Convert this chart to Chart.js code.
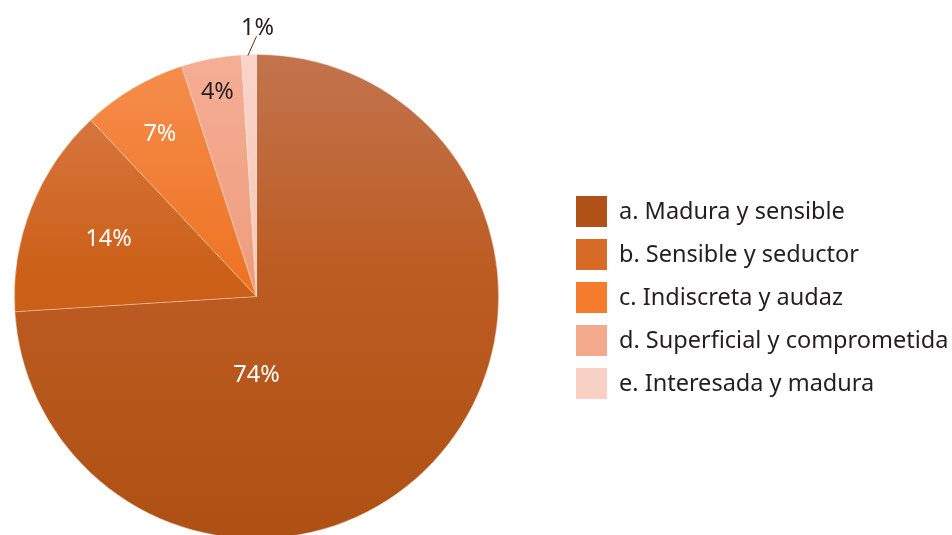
<!DOCTYPE html>
<html>
<head>
<meta charset="utf-8">
<script src="https://cdn.jsdelivr.net/npm/chart.js@4.4.1/dist/chart.umd.min.js"></script>
<style>
html, body { margin: 0; padding: 0; background: #ffffff; overflow: hidden; width: 952px; height: 535px; }
#wrap { position: absolute; left: 0; top: 0; width: 952px; height: 539px; }
</style>
</head>
<body>
<div id="wrap"><canvas id="c"></canvas></div>
<script>
// ---- data ----
const categories = [
  "a. Madura y sensible",
  "b. Sensible y seductor",
  "c. Indiscreta y audaz",
  "d. Superficial y comprometida",
  "e. Interesada y madura"
];
const percentages = [74, 14, 7, 4, 1];
const valueLabels = ["74%", "14%", "7%", "4%", "1%"];

// ---- styles ----
const legendColors = ["#b05218", "#d86a28", "#f47c2c", "#f4a88c", "#f8d0c4"];
const sliceGradients = [
  [[0, "#c2744e"], [0.45, "#bc5c22"], [1, "#ae5014"]],
  [[0, "#da7e4e"], [0.45, "#cc6018"], [1, "#c45a14"]],
  [[0, "#f68e4e"], [0.45, "#ee7424"], [1, "#e86c1c"]],
  [[0, "#f5ae94"], [0.5, "#ee9c7c"], [1, "#e89070"]],
  [[0, "#f9d4c8"], [0.5, "#f6c8ba"], [1, "#f2c0b0"]]
];
const labelColors = ["#ffffff", "#ffffff", "#ffffff", "#231f20", "#231f20"];
const FONT = "'Noto Sans', sans-serif";
const FONT_SIZE = 23.5;

function sliceFill(ctx) {
  const chart = ctx.chart;
  const area = chart.chartArea;
  if (!area) return legendColors[ctx.dataIndex];
  const g = chart.ctx.createLinearGradient(0, area.top, 0, area.bottom);
  sliceGradients[ctx.dataIndex].forEach(s => g.addColorStop(s[0], s[1]));
  return g;
}

const labelPlugin = {
  id: 'sliceLabels',
  afterDatasetsDraw(chart) {
    const ctx = chart.ctx;
    const meta = chart.getDatasetMeta(0);
    ctx.save();
    ctx.font = FONT_SIZE + "px " + FONT;
    ctx.textAlign = "center";
    ctx.textBaseline = "middle";
    meta.data.forEach((arc, i) => {
      const p = arc.getProps(['x', 'y', 'startAngle', 'endAngle', 'outerRadius'], true);
      const mid = (p.startAngle + p.endAngle) / 2;
      const R = p.outerRadius;
      let lx, ly;
      if (i === 0) {
        // largest slice: label placed below centre
        lx = p.x; ly = p.y + R * 0.32;
      } else if (i === meta.data.length - 1) {
        // smallest slice: label outside with leader line
        const ex = p.x + Math.cos(mid) * R, ey = p.y + Math.sin(mid) * R;
        const top = -Math.PI / 2;
        lx = p.x + Math.cos(top) * (R + 27) + 1;
        ly = p.y + Math.sin(top) * (R + 27);
        ctx.strokeStyle = "#6b2a12";
        ctx.lineWidth = 1;
        ctx.beginPath();
        ctx.moveTo(ex - 1, ey + 1);
        ctx.lineTo(p.x, p.y - R - 18);
        ctx.stroke();
      } else {
        const fr = [0, 0.657, 0.784, 0.862][i];
        lx = p.x + Math.cos(mid) * R * fr;
        ly = p.y + Math.sin(mid) * R * fr;
      }
      ctx.fillStyle = labelColors[i];
      ctx.fillText(valueLabels[i], lx, ly + 1);
    });
    ctx.restore();
  }
};

const legendPlugin = {
  id: 'sideLegend',
  afterDraw(chart) {
    const ctx = chart.ctx;
    const items = chart.data.labels;
    ctx.save();
    ctx.font = FONT_SIZE + "px " + FONT;
    ctx.textAlign = "left";
    ctx.textBaseline = "middle";
    items.forEach((lab, i) => {
      const y = 196 + i * 43;
      ctx.fillStyle = legendColors[i];
      ctx.fillRect(576, y, 31, 31);
      ctx.fillStyle = "#231f20";
      ctx.fillText(lab, 619, y + 16.5);
    });
    ctx.restore();
  }
};

new Chart(document.getElementById('c'), {
  type: 'pie',
  data: {
    labels: categories,
    datasets: [{
      data: percentages,
      backgroundColor: sliceFill,
      borderColor: "rgba(255,235,220,0.45)",
      borderWidth: 0.8,
      hoverOffset: 0
    }]
  },
  options: {
    responsive: true,
    maintainAspectRatio: false,
    devicePixelRatio: 1,
    animation: false,
    events: [],
    layout: { padding: { left: 14, top: 54, right: 453, bottom: 0 } },
    plugins: {
      legend: { display: false },
      tooltip: { enabled: false }
    }
  },
  plugins: [labelPlugin, legendPlugin]
});
</script>
</body>
</html>
